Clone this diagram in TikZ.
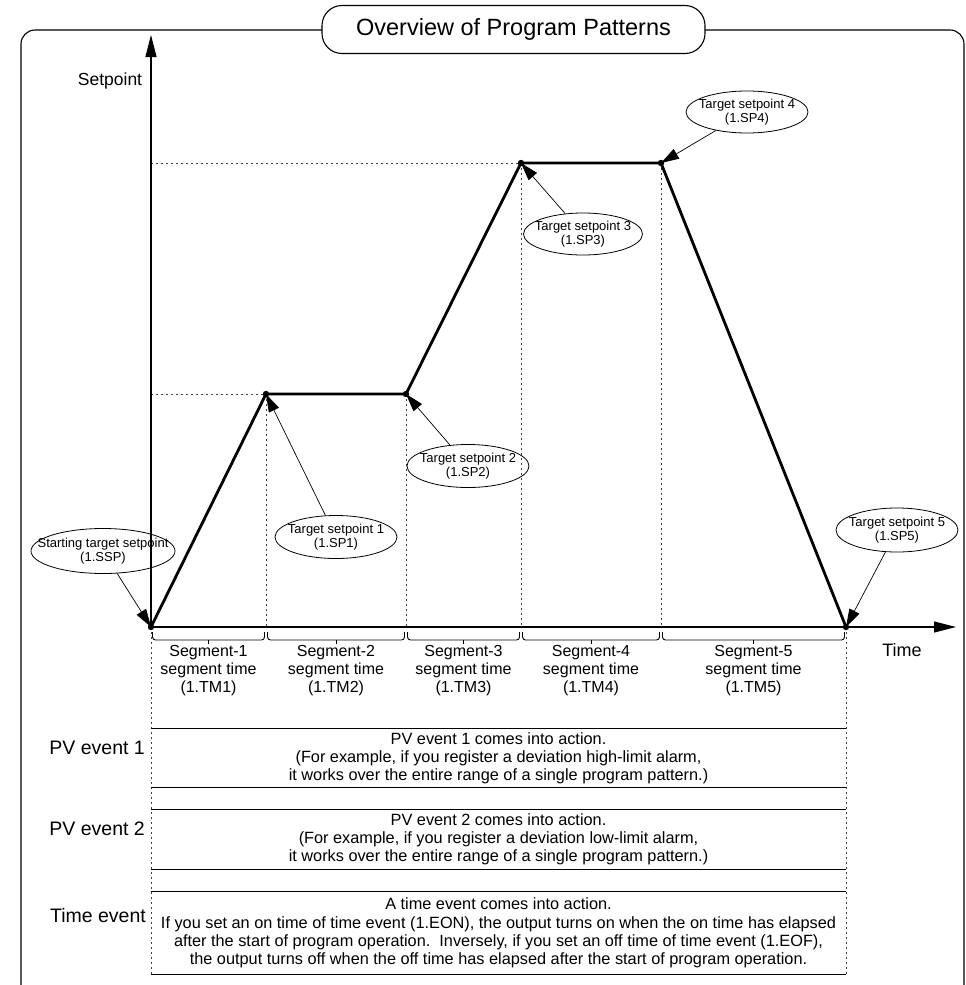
\documentclass[tikz,border=0pt]{standalone}
\usepackage{fontspec}
\setmainfont{Liberation Sans}
\usetikzlibrary{arrows.meta,shapes.geometric}
\begin{document}
\begin{tikzpicture}[x=1pt,y=-1pt,
  frame/.style={line width=1.1pt, rounded corners=14pt},
  axis/.style={line width=1.1pt,-{Triangle[length=22pt,width=11pt]}},
  guide/.style={line width=0.9pt, dash pattern=on 2pt off 3pt, black!75},
  profile/.style={line width=2.8pt, line join=round},
  tag/.style={ellipse, draw, line width=0.8pt, minimum width=122pt, minimum height=43pt, inner sep=0pt},
  tagtext/.style={align=center, font=\fontsize{13}{14}\selectfont, inner sep=0pt},
  callout/.style={line width=0.7pt, -{Triangle[length=18pt,width=11pt]}},
  segtext/.style={align=center, font=\fontsize{16}{18}\selectfont, inner sep=0pt},
  evlabel/.style={anchor=east, font=\fontsize{19.5}{22}\selectfont, inner sep=0pt},
  evbox/.style={minimum width=695pt, inner sep=0pt, align=center, font=\fontsize{16.3}{18.2}\selectfont},
  bracket/.style={line width=0.9pt, rounded corners=3pt},
  edge/.style={line width=1pt}
]
\useasboundingbox (0,0) rectangle (966,985);

% outer frame and title
\draw[frame] (21,995) -- (21,30) -- (964,30) -- (964,995);
\node[draw, line width=1.1pt, rounded corners=20pt, fill=white, minimum width=383pt,
      minimum height=48pt, font=\fontsize{23.5}{28}\selectfont] (title) at (513.5,29.5)
      {Overview of Program Patterns};

% corner points of the program pattern
\coordinate (p0) at (151,627);
\coordinate (p1) at (266,394);
\coordinate (p2) at (406,394);
\coordinate (p3) at (521,163);
\coordinate (p4) at (661,163);
\coordinate (p5) at (846,627);
\coordinate (bot) at (0,974);
\coordinate (ytip) at (151,35);
\coordinate (xtip) at (956,627);

% guide lines
\draw[guide] (p0 |- p1) -- (p1);
\draw[guide] (p0 |- p3) -- (p3);
\draw[guide] (p1) -- (p1 |- p0);
\draw[guide] (p2) -- (p2 |- p0);
\draw[guide] (p3) -- (p3 |- p0);
\draw[guide] (p4) -- (p4 |- p0);
\draw[guide] (p0) -- (p0 |- bot);
\draw[guide] (p5) -- (p5 |- bot);

% axes
\draw[axis] (p0) -- (ytip);
\draw[axis] (p0) -- (xtip);
\node[font=\fontsize{17.5}{20}\selectfont] (ylab) at (110,81) {Setpoint};
\node[font=\fontsize{18}{20}\selectfont] (xlab) at (902,650) {Time};

% setpoint profile
\draw[profile] (p0) -- (p1) -- (p2) -- (p3) -- (p4) -- (p5);
\foreach \p in {p0,p1,p2,p3,p4,p5} \fill (\p) circle (3.2);

% segment brackets and labels
\foreach \a/\b/\n in {151/266/1,266/406/2,406/521/3,521/661/4,661/846/5} {
  \draw[bracket] (\a+1.5,632) -- (\a+1.5,640) -- (\b-1.5,640) -- (\b-1.5,632);
  \draw[line width=0.9pt] ({(\a+\b)/2},640) -- ({(\a+\b)/2},644);
  \node[segtext] (seg\n) at ({(\a+\b)/2},671) {Segment-\n\\segment time\\(1.TM\n)};
}

% target setpoint callouts
\node[tag, minimum width=144pt, minimum height=45pt] (ssp) at (103,551) {};
\node[tagtext] (ssptx) at (ssp) {Starting target setpoint\\(1.SSP)};
\node[tag] (sp1) at (336,537) {};
\node[tagtext] (sp1tx) at (sp1) {Target setpoint 1\\(1.SP1)};
\node[tag] (sp2) at (468,466) {};
\node[tagtext] (sp2tx) at (sp2) {Target setpoint 2\\(1.SP2)};
\node[tag, minimum width=119pt, minimum height=42pt] (sp3) at (583,234) {};
\node[tagtext] (sp3tx) at (sp3) {Target setpoint 3\\(1.SP3)};
\node[tag, minimum height=42pt] (sp4) at (747,112) {};
\node[tagtext] (sp4tx) at (sp4) {Target setpoint 4\\(1.SP4)};
\node[tag, minimum height=44pt] (sp5) at (897,530) {};
\node[tagtext] (sp5tx) at (sp5) {Target setpoint 5\\(1.SP5)};

\draw[callout] (ssp) -- (p0);
\draw[callout] (sp1) -- (p1);
\draw[callout] (sp2) -- (p2);
\draw[callout] (sp3) -- (p3);
\draw[callout] (sp4) -- (p4);
\draw[callout] (sp5) -- (p5);

% event rows
\node[evlabel] (ev1l) at (145,748) {PV event 1};
\node[evlabel] (ev2l) at (145,829) {PV event 2};
\node[evlabel] (ev3l) at (146,916) {Time event};

\node[evbox, minimum height=58pt] (ev1) at (498.5,758)
  {PV event 1 comes into action.\\
   (For example, if you register a deviation high-limit alarm,\\
   it works over the entire range of a single program pattern.)};
\node[evbox, minimum height=59pt] (ev2) at (498.5,839.5)
  {PV event 2 comes into action.\\
   (For example, if you register a deviation low-limit alarm,\\
   it works over the entire range of a single program pattern.)};
\node[evbox, minimum height=82pt] (ev3) at (498.5,933)
  {A time event comes into action.\\
   If you set an on time of time event (1.EON), the output turns on when the on time has elapsed\\
   after the start of program operation.\ \ Inversely, if you set an off time of time event (1.EOF),\\
   the output turns off when the off time has elapsed after the start of program operation.};
\foreach \b in {ev1,ev2,ev3} {
  \draw[edge] (\b.north west) -- (\b.north east);
  \draw[edge] (\b.south west) -- (\b.south east);
}
\end{tikzpicture}
\end{document}
